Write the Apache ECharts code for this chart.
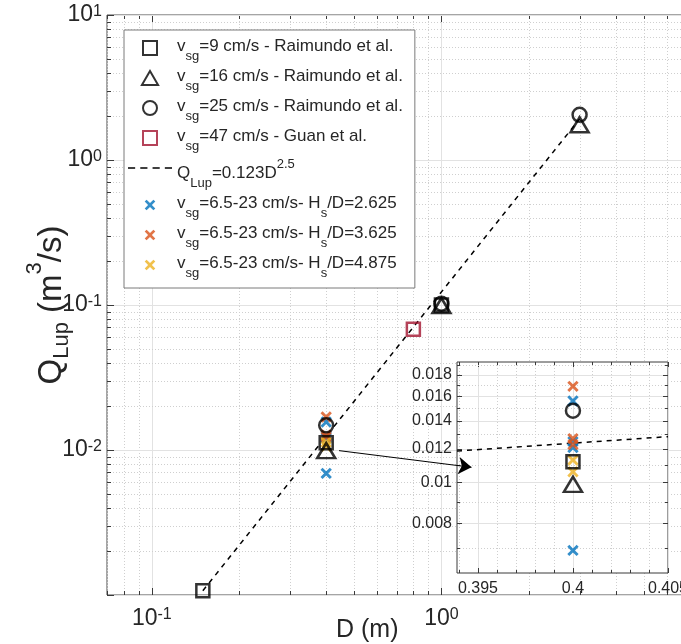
<!DOCTYPE html>
<html><head><meta charset="utf-8">
<script src="https://cdn.jsdelivr.net/npm/echarts@6/dist/echarts.min.js"></script>
<style>html,body{margin:0;padding:0;background:#fff;overflow:hidden}#c{width:740px;height:644px}</style>
</head><body><div id="c"></div>
<script>
const FONT = '"Liberation Sans", Arial, Helvetica, sans-serif';
const TXT = '#262626';

// ---- data: D (m), Q_Lup (m^3/s) ----
const raimundo9 = [[0.15, 0.00107], [0.4, 0.0112], [1.0, 0.100]];
const raimundo16 = [[0.4, 0.0099], [1.0, 0.099], [3.0, 1.75]];
const raimundo25 = [[0.4, 0.0148], [1.0, 0.102], [3.0, 2.05]];
const guan47 = [[0.8, 0.068]];
const fitLine = [[0.15, 0.00107], [3.0, 1.92]];
const hd2625 = [[0.4, 0.0069], [0.4, 0.0121], [0.4, 0.0125], [0.4, 0.0156]];
const hd3625 = [[0.4, 0.0169], [0.4, 0.0127], [0.4, 0.0123]];
const hd4875 = [[0.4, 0.0113], [0.4, 0.0106]];
const fitLineInset = [[0.3939, 0.01187], [0.405, 0.01284]];
const arrowPts = [[0.443, 0.0099], [1.27, 0.0076]];

// ---- ticks ----
const mainXMajor = [0.1, 1, 10];
const mainXMinor = [0.07, 0.08, 0.09, 0.2, 0.3, 0.4, 0.5, 0.6, 0.7, 0.8, 0.9, 2, 3, 4, 5, 6, 7, 8, 9];
const mainYMajor = [0.001, 0.01, 0.1, 1, 10];
const mainYMinor = [0.002, 0.003, 0.004, 0.005, 0.006, 0.007, 0.008, 0.009,
  0.02, 0.03, 0.04, 0.05, 0.06, 0.07, 0.08, 0.09, 0.2, 0.3, 0.4, 0.5, 0.6, 0.7, 0.8, 0.9,
  2, 3, 4, 5, 6, 7, 8, 9];
const mainXLabels = [0.1, 1];
const mainYLabels = [0.01, 0.1, 1, 10];
const insetXMajor = [0.395, 0.4, 0.405];
const insetXMinor = [0.394, 0.396, 0.397, 0.398, 0.399, 0.401, 0.402, 0.403, 0.404];
const insetYMajor = [0.008, 0.01, 0.012, 0.014, 0.016, 0.018];
const insetYMinor = [0.007, 0.009, 0.011, 0.013, 0.015, 0.017, 0.019];

const names = [
  'v_sg=9 cm/s - Raimundo et al.',
  'v_sg=16 cm/s - Raimundo et al.',
  'v_sg=25 cm/s - Raimundo et al.',
  'v_sg=47 cm/s - Guan et al.',
  'Q_Lup=0.123D^2.5',
  'v_sg=6.5-23 cm/s- H_s/D=2.625',
  'v_sg=6.5-23 cm/s- H_s/D=3.625',
  'v_sg=6.5-23 cm/s- H_s/D=4.875'
];
const legendRich = [
  '{n|v}{sub|sg}{n|=9 cm/s - Raimundo et al.}',
  '{n|v}{sub|sg}{n|=16 cm/s - Raimundo et al.}',
  '{n|v}{sub|sg}{n|=25 cm/s - Raimundo et al.}',
  '{n|v}{sub|sg}{n|=47 cm/s - Guan et al.}',
  '{qn|Q}{qsub|Lup}{qn|=0.123D}{sup|2.5}',
  '{n|v}{sub|sg}{n|=6.5-23 cm/s- H}{sub|s}{n|/D=2.625}',
  '{n|v}{sub|sg}{n|=6.5-23 cm/s- H}{sub|s}{n|/D=3.625}',
  '{n|v}{sub|sg}{n|=6.5-23 cm/s- H}{sub|s}{n|/D=4.875}'
];

const XPATH = 'path://M-1.6,-1.6L-1.59,-1.6M11.6,11.6L11.59,11.6M0,1.8L1.8,0L5,3.2L8.2,0L10,1.8L6.8,5L10,8.2L8.2,10L5,6.8L1.8,10L0,8.2L3.2,5Z';
const SQPATH = 'path://M0,0L10,0L10,10L0,10Z';
const TRIPATH = 'path://M5,0L10,8.66L0,8.66Z';
const CIRPATH = 'path://M10,5A5,5,0,1,1,0,5A5,5,0,1,1,10,5Z';
const DASHPATH = 'path://M0,0h7v1.5h-7ZM12,0h7v1.5h-7ZM24,0h7v1.5h-7ZM36,0h7v1.5h-7Z';
const hollow = c => ({color: 'rgba(0,0,0,0)', borderColor: c, borderWidth: 2.5});

function powLabel(v) {
  const e = Math.round(Math.log10(v));
  return '{b|10}{s|' + e + '}';
}
function decLabel(v) { return String(parseFloat(v.toFixed(4))); }

function ruleSeries(g, dir, values, kind, ref, o) {
  return {
    type: 'custom', xAxisIndex: g, yAxisIndex: g, silent: true, z: o.z, clip: false,
    data: values.map(v => dir === 'x' ? [v, ref] : [ref, v]),
    renderItem: function (params, api) {
      const cs = params.coordSys;
      const p = api.coord([api.value(0), api.value(1)]);
      const tl = kind === 'major' ? o.majorLen : o.minorLen;
      const gs = kind === 'major' ? {stroke: o.majorGrid, lineWidth: 1}
                                  : {stroke: o.minorGrid, lineWidth: 1, lineDash: [1, 2]};
      const ts = {stroke: o.tick, lineWidth: 1};
      const ch = [];
      if (dir === 'x') {
        const x = Math.round(p[0]) + 0.5, y0 = cs.y, y1 = cs.y + cs.height;
        ch.push({type: 'line', shape: {x1: x, y1: y0, x2: x, y2: y1}, style: gs});
        ch.push({type: 'line', shape: {x1: x, y1: y1, x2: x, y2: y1 - tl}, style: ts});
        ch.push({type: 'line', shape: {x1: x, y1: y0, x2: x, y2: y0 + tl}, style: ts});
      } else {
        const y = Math.round(p[1]) + 0.5, x0 = cs.x, x1 = cs.x + cs.width;
        ch.push({type: 'line', shape: {x1: x0, y1: y, x2: x1, y2: y}, style: gs});
        ch.push({type: 'line', shape: {x1: x0, y1: y, x2: x0 + tl, y2: y}, style: ts});
        ch.push({type: 'line', shape: {x1: x1, y1: y, x2: x1 - tl, y2: y}, style: ts});
      }
      return {type: 'group', children: ch};
    }
  };
}

const mainRule = {z: 1, majorLen: 7, minorLen: 4, majorGrid: '#e2e2e2', minorGrid: '#cfcfcf', tick: '#3a3a3a'};
const insetRule = {z: 21, majorLen: 5, minorLen: 3, majorGrid: '#e2e2e2', minorGrid: '#cfcfcf', tick: '#3a3a3a'};

const inInset = arr => arr.filter(p => p[0] > 0.39 && p[0] < 0.41);

function pointSeries(name, data, symbol, size, style, z) {
  return [
    {type: 'scatter', name: name, xAxisIndex: 0, yAxisIndex: 0, data: data, symbol: symbol,
     symbolSize: size, itemStyle: style, z: z, emphasis: {disabled: true}},
    {type: 'scatter', name: name, xAxisIndex: 1, yAxisIndex: 1, data: inInset(data), symbol: symbol,
     symbolSize: size, itemStyle: style, z: 30 + z, emphasis: {disabled: true}}
  ];
}

const series = [].concat(
  ruleSeries(0, 'x', mainXMajor, 'major', 1, mainRule),
  ruleSeries(0, 'x', mainXMinor, 'minor', 1, mainRule),
  ruleSeries(0, 'y', mainYMajor, 'major', 1, mainRule),
  ruleSeries(0, 'y', mainYMinor, 'minor', 1, mainRule),
  ruleSeries(1, 'x', insetXMajor, 'major', 0.01, insetRule),
  ruleSeries(1, 'x', insetXMinor, 'minor', 0.01, insetRule),
  ruleSeries(1, 'y', insetYMajor, 'major', 0.4, insetRule),
  ruleSeries(1, 'y', insetYMinor, 'minor', 0.4, insetRule),
  [{type: 'line', name: names[4], xAxisIndex: 0, yAxisIndex: 0, data: fitLine, symbol: 'none',
    lineStyle: {color: '#000', width: 1.5, type: [5, 5]}, itemStyle: {color: '#000'}, z: 4,
    emphasis: {disabled: true}},
   {type: 'line', name: names[4], xAxisIndex: 1, yAxisIndex: 1, data: fitLineInset, symbol: 'none',
    lineStyle: {color: '#000', width: 1.5, type: [5, 5]}, itemStyle: {color: '#000'}, z: 34,
    emphasis: {disabled: true}}],
  pointSeries(names[5], hd2625, XPATH, 15, {color: '#0072BD'}, 5),
  pointSeries(names[6], hd3625, XPATH, 15, {color: '#D95319'}, 5),
  pointSeries(names[7], hd4875, XPATH, 15, {color: '#EDB120'}, 5),
  pointSeries(names[0], raimundo9, SQPATH, 13, hollow('#000'), 6),
  pointSeries(names[1], raimundo16, TRIPATH, [18, 15], hollow('#000'), 6),
  pointSeries(names[2], raimundo25, CIRPATH, 14, hollow('#000'), 6),
  pointSeries(names[3], guan47, SQPATH, 13, hollow('#A2142F'), 6),
  [{type: 'line', name: 'arrow', xAxisIndex: 0, yAxisIndex: 0, data: [], z: 60, silent: true,
    markLine: {silent: true, z: 100, symbol: ['none', 'arrow'], symbolSize: 13, animation: false,
      label: {show: false}, lineStyle: {color: '#000', width: 1, type: 'solid'},
      emphasis: {disabled: true},
      data: [[{coord: arrowPts[0]}, {coord: arrowPts[1]}]]}}]
);

const chart = echarts.init(document.getElementById('c'));
chart.setOption({
  animation: false,
  backgroundColor: '#fff',
  textStyle: {fontFamily: FONT},
  title: {text: 'D (m)', left: 331, top: 613,
    textStyle: {fontFamily: FONT, fontSize: 25, fontWeight: 'normal', color: TXT}},
  grid: [
    {left: 107, top: 15, width: 624, height: 580, show: true, borderColor: '#4a4a4a', borderWidth: 1,
     backgroundColor: 'rgba(0,0,0,0)', z: 0, outerBoundsMode: 'none', containLabel: false},
    {left: 457, top: 362, width: 211, height: 211, show: true, borderColor: '#3a3a3a', borderWidth: 1,
     backgroundColor: '#fff', z: 20, outerBoundsMode: 'none', containLabel: false}
  ],
  xAxis: [
    {type: 'log', logBase: 10, gridIndex: 0, min: 0.07, max: 10, z: 3,
     axisLine: {show: false}, axisTick: {show: false}, splitLine: {show: false}, minorTick: {show: false},
     axisLabel: {customValues: mainXLabels, formatter: powLabel, margin: 12,
       rich: {b: {fontSize: 23, lineHeight: 23, padding: [9, 0, 0, 0], verticalAlign: 'bottom', color: TXT, fontFamily: FONT},
              s: {fontSize: 16, lineHeight: 16, verticalAlign: 'top', color: TXT, fontFamily: FONT}}}},
    {type: 'value', gridIndex: 1, min: 0.3939, max: 0.405, z: 25,
     axisLine: {show: false}, axisTick: {show: false}, splitLine: {show: false},
     axisLabel: {customValues: insetXMajor, formatter: decLabel, margin: 8,
       fontSize: 16, color: TXT, fontFamily: FONT}}
  ],
  yAxis: [
    {type: 'log', logBase: 10, gridIndex: 0, min: 0.001, max: 10, z: 3,
     axisLine: {show: false}, axisTick: {show: false}, splitLine: {show: false}, minorTick: {show: false},
     name: '{q|Q}{sub|Lup}{q| (m}{sup|3}{q|/s)}', nameLocation: 'middle', nameRotate: 90, nameGap: 50,
     nameMoveOverlap: false,
     nameTextStyle: {rich: {
       q: {fontSize: 33, lineHeight: 33, padding: [11, 0, 0, 0], verticalAlign: 'top', color: TXT, fontFamily: FONT},
       sub: {fontSize: 22, lineHeight: 22, padding: [27, 0, 0, 0], verticalAlign: 'top', color: TXT, fontFamily: FONT},
       sup: {fontSize: 22, lineHeight: 22, verticalAlign: 'top', color: TXT, fontFamily: FONT}}},
     axisLabel: {customValues: mainYLabels, formatter: powLabel, margin: 5,
       rich: {b: {fontSize: 23, lineHeight: 23, padding: [9, 0, 0, 0], verticalAlign: 'bottom', color: TXT, fontFamily: FONT},
              s: {fontSize: 16, lineHeight: 16, verticalAlign: 'top', color: TXT, fontFamily: FONT}}}},
    {type: 'log', logBase: 10, gridIndex: 1, min: 0.0061, max: 0.0193, z: 25,
     axisLine: {show: false}, axisTick: {show: false}, splitLine: {show: false}, minorTick: {show: false},
     axisLabel: {customValues: insetYMajor, formatter: decLabel, margin: 5,
       fontSize: 16, color: TXT, fontFamily: FONT}}
  ],
  legend: {
    data: names.map((n, i) => i === 4 ? {name: n, icon: DASHPATH} : n),
    orient: 'vertical', left: 124, top: 30, itemWidth: 44, itemHeight: 14, itemGap: 5,
    padding: [8, 12, 8, 4], backgroundColor: '#fff', borderColor: '#7a7a7a', borderWidth: 1, z: 50,
    selectedMode: false, symbolKeepAspect: true,
    formatter: n => legendRich[names.indexOf(n)],
    textStyle: {color: TXT, fontFamily: FONT, rich: {
      n: {fontSize: 17, lineHeight: 20, verticalAlign: 'top', color: TXT, fontFamily: FONT},
      sub: {fontSize: 13, lineHeight: 13, padding: [12, 0, 0, 0], verticalAlign: 'top', color: TXT, fontFamily: FONT},
      qn: {fontSize: 17, lineHeight: 20, padding: [7, 0, 0, 0], verticalAlign: 'top', color: TXT, fontFamily: FONT},
      qsub: {fontSize: 13, lineHeight: 13, padding: [19, 0, 0, 0], verticalAlign: 'top', color: TXT, fontFamily: FONT},
      sup: {fontSize: 13, lineHeight: 13, verticalAlign: 'top', color: TXT, fontFamily: FONT}}}
  },
  series: series
});
</script>
</body></html>
